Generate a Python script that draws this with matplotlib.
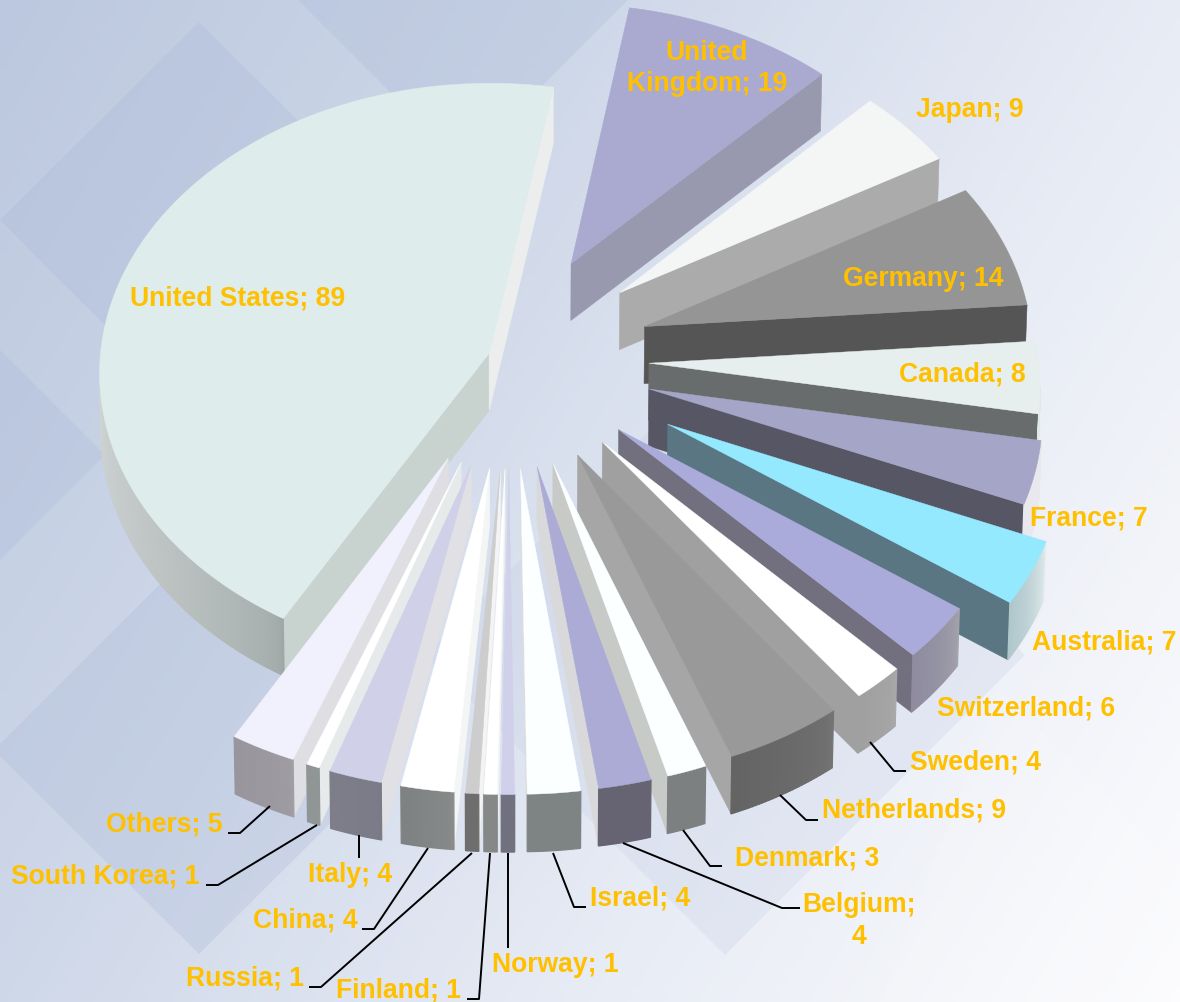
import numpy as np
import matplotlib
matplotlib.use("Agg")
import matplotlib.pyplot as plt
from matplotlib.colors import LinearSegmentedColormap, to_rgb
from matplotlib.patches import Polygon

# ---------- data ----------
countries = ["United States", "United Kingdom", "Japan", "Germany", "Canada", "France", "Australia",
             "Switzerland", "Sweden", "Netherlands", "Denmark", "Belgium", "Israel", "Norway",
             "Finland", "Russia", "China", "Italy", "South Korea", "Others"]
values = [89, 19, 9, 14, 8, 7, 7, 6, 4, 9, 3, 4, 4, 1, 1, 1, 4, 4, 1, 5]

top_colors = ["#DEECEC", "#AAAAD0", "#F4F5F5", "#959595", "#E6EEEE", "#A5A5C7", "#94E9FF",
              "#ABABDB", "#FFFFFF", "#999999", "#FBFFFF", "#ABABD6", "#FBFFFF", "#D0D0EA",
              "#FFFFFF", "#CDCDCD", "#FFFFFF", "#D0D0E8", "#FFFFFF", "#F1F1FD"]
cut_colors = ["#C8D2CF", "#9898AE", "#ABABAB", "#555555", "#696C6C", "#565664", "#5A7682",
              "#72707F", "#A0A0A0", "#A6A6A6", "#C8CAC8", "#D9D9DB", "#DDDDDD", "#E0E0F0",
              "#F4F4F4", "#F4F4F4", "#F4F6F6", "#E1E1E5", "#E6EAEA", "#DFDFE3"]
cut_colors_end = {0: "#ECEEEE"}
rim_start = ["#9EA8A6", "#909090", "#999999", "#555555", "#E0E8E8", "#E8E8EE", "#E8F0F2",
             "#A4A4AC", "#A8A8A8", "#747474", "#7C8080", "#666472", "#7E8484", "#70707E",
             "#868888", "#6E6E6E", "#8A8C8C", "#7A7A88", "#909696", "#A09EA4"]
rim_end = ["#F4F6F6", "#909090", "#999999", "#555555", "#E0E8E8", "#E8E8EE", "#B0C8CC",
           "#8E8C9E", "#A0A0A0", "#646464", "#7C8080", "#666472", "#7E8484", "#70707E",
           "#868888", "#6E6E6E", "#7E8282", "#7E7E8A", "#909696", "#98969C"]

label_text = {"United Kingdom": "United\nKingdom; 19", "Belgium": "Belgium;\n4"}
label_pos = {
    "United States": (238, 299), "United Kingdom": (707, 68), "Japan": (970, 110), "Germany": (923, 279),
    "Canada": (962, 375), "France": (1089, 519), "Australia": (1104, 643), "Switzerland": (1026, 709),
    "Sweden": (976, 763), "Netherlands": (914, 811), "Denmark": (807, 859), "Belgium": (859, 921),
    "Israel": (640, 899), "Norway": (555, 965), "Finland": (398, 991), "Russia": (245, 979),
    "China": (305, 921), "Italy": (350, 875), "South Korea": (105, 877), "Others": (164, 825)}
leaders = {
    "Others": [(228, 833), (240, 833), (270, 806)],
    "South Korea": [(206, 885), (218, 885), (317, 825)],
    "Italy": [(359, 858), (359, 835)],
    "China": [(362, 929), (374, 929), (428, 848)],
    "Russia": [(309, 987), (321, 987), (472, 853)],
    "Finland": [(467, 999), (479, 999), (490, 853)],
    "Norway": [(508, 948), (508, 853)],
    "Israel": [(586, 907), (574, 907), (553, 853)],
    "Belgium": [(800, 908), (782, 908), (623, 843)],
    "Denmark": [(722, 866), (710, 866), (683, 830)],
    "Netherlands": [(818, 820), (806, 820), (780, 795)],
    "Sweden": [(906, 771), (894, 771), (870, 742)],
}
explode = [18, 146, 146, 146, 143, 148, 182, 146, 146, 146, 146, 146, 146, 146, 146, 146, 146, 146, 146, 146]
nudge = [0, 0, 0, 0, 0, 0, 0, 0, 0, 0, 1, 1, 3, 3, 4, 4, 5, 5, 6, 6]

# ---------- projection ----------
CX, CY, RAD, K, PERSP, H = 506, 358, 389, 0.742, 0.066, 57
START = 10.0 - 360 * values[0] / sum(values)

def proj(X, Y, z=0.0, dx=0.0):
    s = 1 / (1 + PERSP * Y / RAD)
    x = CX + dx + s * X * (1 - 0.004 * (z > 0))
    y = CY - K * s * Y + z * (0.92 + 0.08 * s)
    return x, y

def unit(a):
    r = np.radians(a)
    return np.sin(r), np.cos(r)

# ---------- figure / background ----------
fig = plt.figure(figsize=(11.8, 10.02), dpi=100)
ax = fig.add_axes([0, 0, 1, 1])
ax.set_xlim(0, 1180)
ax.set_ylim(1002, 0)
ax.axis("off")
xx, yy = np.meshgrid(np.linspace(0, 1180, 300), np.linspace(0, 1002, 260))
cmap = LinearSegmentedColormap.from_list("bg", [(0, "#BCC8DF"), (.34, "#CFD8E9"), (.67, "#E8ECF5"), (1, "#FCFCFE")])
ax.imshow((xx + .6 * yy) / 1781, extent=(0, 1180, 1002, 0), cmap=cmap, vmin=0, vmax=1, aspect="auto", zorder=0)
dark = [[(199, 22), (0, 220), (199, 420), (398, 220)],
        [(199, 545), (-6, 750), (199, 954), (404, 750)],
        [(298, 0), (463, 165), (628, 0)],
        [(0, 350), (0, 560), (105, 455)]]
for d in dark:
    ax.add_patch(Polygon(d, closed=True, fc="#A9B8D6", ec="none", alpha=.28, zorder=1))
ax.add_patch(Polygon([(1000, 690), (1180, 870), (1180, 1002), (880, 1002)], closed=True, fc="#FFFFFF", ec="none", alpha=.15, zorder=1))
ax.add_patch(Polygon([(725, 355), (1025, 655), (725, 955), (425, 655)], closed=True, fc="#C5CFE6", ec="none", alpha=.28, zorder=1))

# ---------- pie slices ----------
total = sum(values)
spans = np.array(values) * 360 / total
starts = START + np.concatenate([[0], np.cumsum(spans)[:-1]])
order = sorted(range(len(values)), key=lambda i: -(unit(starts[i] + spans[i] / 2)[1] * explode[i]))
order.remove(0)
order.insert(0, 0)

for n, i in enumerate(order):
    a0, a1 = starts[i], starts[i] + spans[i]
    amid = (a0 + a1) / 2
    ex, ey = unit(amid)
    ox, oy = ex * explode[i], ey * explode[i]
    angs = np.linspace(a0, a1, max(6, int(spans[i] * 2)))
    dx = nudge[i]
    pt = lambda a, z=0.0: proj(ox + RAD * unit(a)[0], oy + RAD * unit(a)[1], z, dx)
    apex_t, apex_b = proj(ox, oy, 0.0, dx), proj(ox, oy, H, dx)
    zo = 3 + n

    def cut(a, col):
        ax.add_patch(Polygon([apex_t, pt(a), pt(a, H), apex_b], closed=True, fc=col, ec=col, lw=.4, zorder=zo))

    # cut faces: the end edge on the right half, the start edge on the left half
    for a, col in ((a0, cut_colors[i]), (a1, cut_colors_end.get(i, cut_colors[i]))):
        norm_a = a % 360
        if (a == a1 and 0 < norm_a < 180) or (a == a0 and 180 < norm_a < 360):
            cut(a, col)
    # rim facets
    c0, c1 = np.array(to_rgb(rim_start[i])), np.array(to_rgb(rim_end[i]))
    for j in range(len(angs) - 1):
        am = (angs[j] + angs[j + 1]) / 2
        if np.cos(np.radians(am)) < -.08:
            t = (j / (len(angs) - 2)) ** .55
            col = c0 * (1 - t) + c1 * t
            ax.add_patch(Polygon([pt(angs[j]), pt(angs[j + 1]), pt(angs[j + 1], H), pt(angs[j], H)],
                                 closed=True, fc=col, ec=col, lw=.9, zorder=zo))
    # top face
    ring = [apex_t] + [pt(a) for a in angs]
    ax.add_patch(Polygon(ring, closed=True, fc=top_colors[i], ec=top_colors[i], lw=.3, zorder=zo + .5))

# ---------- labels ----------
for name, val in zip(countries, values):
    txt = label_text.get(name, f"{name}; {val}")
    x, y = label_pos[name]
    ax.text(x, y, txt, ha="center", va="center", family="Liberation Sans", weight="bold",
            fontsize=19.1, color="#FFC000", linespacing=1.25, zorder=100)
for pts in leaders.values():
    p = np.array(pts)
    ax.plot(p[:, 0], p[:, 1], color="black", lw=1.4, zorder=90, solid_capstyle="butt")

fig.savefig("out.png", dpi=100)
